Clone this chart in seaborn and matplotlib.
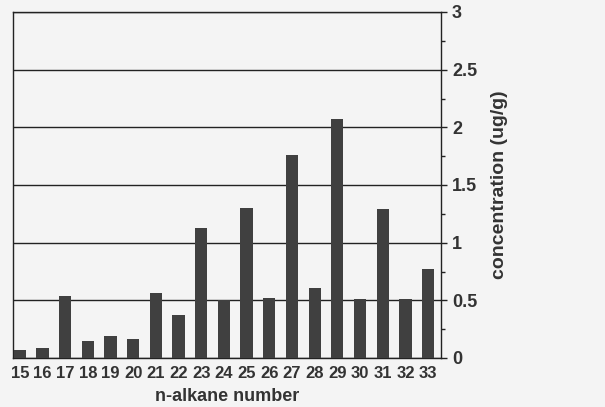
import matplotlib
matplotlib.use("Agg")
import matplotlib.pyplot as plt
import seaborn as sns
import pandas as pd
from matplotlib.ticker import MultipleLocator

carbon = ["15", "16", "17", "18", "19", "20", "21", "22", "23", "24",
          "25", "26", "27", "28", "29", "30", "31", "32", "33"]
conc = [0.066, 0.09, 0.54, 0.15, 0.19, 0.165, 0.56, 0.37, 1.13, 0.505,
        1.30, 0.52, 1.76, 0.61, 2.07, 0.515, 1.29, 0.51, 0.77]
yticks = [0, 0.5, 1, 1.5, 2, 2.5, 3]
yticklabels = ["0", "0.5", "1", "1.5", "2", "2.5", "3"]

df = pd.DataFrame({"n": carbon, "c": conc})

sns.set_style("white")
plt.rcParams["font.family"] = ["Liberation Sans", "DejaVu Sans"]
bg = "#f4f4f4"
txt = "#333333"

fig = plt.figure(figsize=(6.05, 4.07), dpi=100, facecolor=bg)
ax = fig.add_axes([13 / 605, 1 - 358 / 407, (441 - 13) / 605, (358 - 12) / 407])
ax.set_facecolor(bg)

sns.barplot(data=df, x="n", y="c", color="#404040", width=0.54,
            saturation=1, ax=ax, zorder=3, edgecolor="none")

ax.set_xlim(-0.3, 18.57)
ax.set_ylim(0, 3)
ax.yaxis.tick_right()
ax.yaxis.set_label_position("right")
ax.set_yticks(yticks)
ax.set_yticklabels(yticklabels)
ax.yaxis.set_minor_locator(MultipleLocator(0.25))
ax.tick_params(axis="y", which="major", length=4, width=1, color="#222222",
               labelsize=13, labelcolor=txt, pad=4, right=True, left=False)
ax.tick_params(axis="y", which="minor", length=3, width=1, color="#222222",
               right=True, left=False)
ax.tick_params(axis="x", length=0, labelsize=12, labelcolor=txt, pad=6)
for lab in ax.get_xticklabels() + ax.get_yticklabels():
    lab.set_fontweight("bold")

ax.grid(axis="y", color="#222222", linewidth=1, zorder=0)
ax.set_axisbelow(True)
for side in ["left", "right", "bottom", "top"]:
    ax.spines[side].set_visible(True)
    ax.spines[side].set_color("#222222")
    ax.spines[side].set_linewidth(1)

ax.set_xlabel("n-alkane number", fontsize=13, fontweight="bold", color=txt, labelpad=5)
ax.set_ylabel("concentration (ug/g)", fontsize=14, fontweight="bold", color=txt, labelpad=10)

fig.savefig("out.png", dpi=100, facecolor=bg)
